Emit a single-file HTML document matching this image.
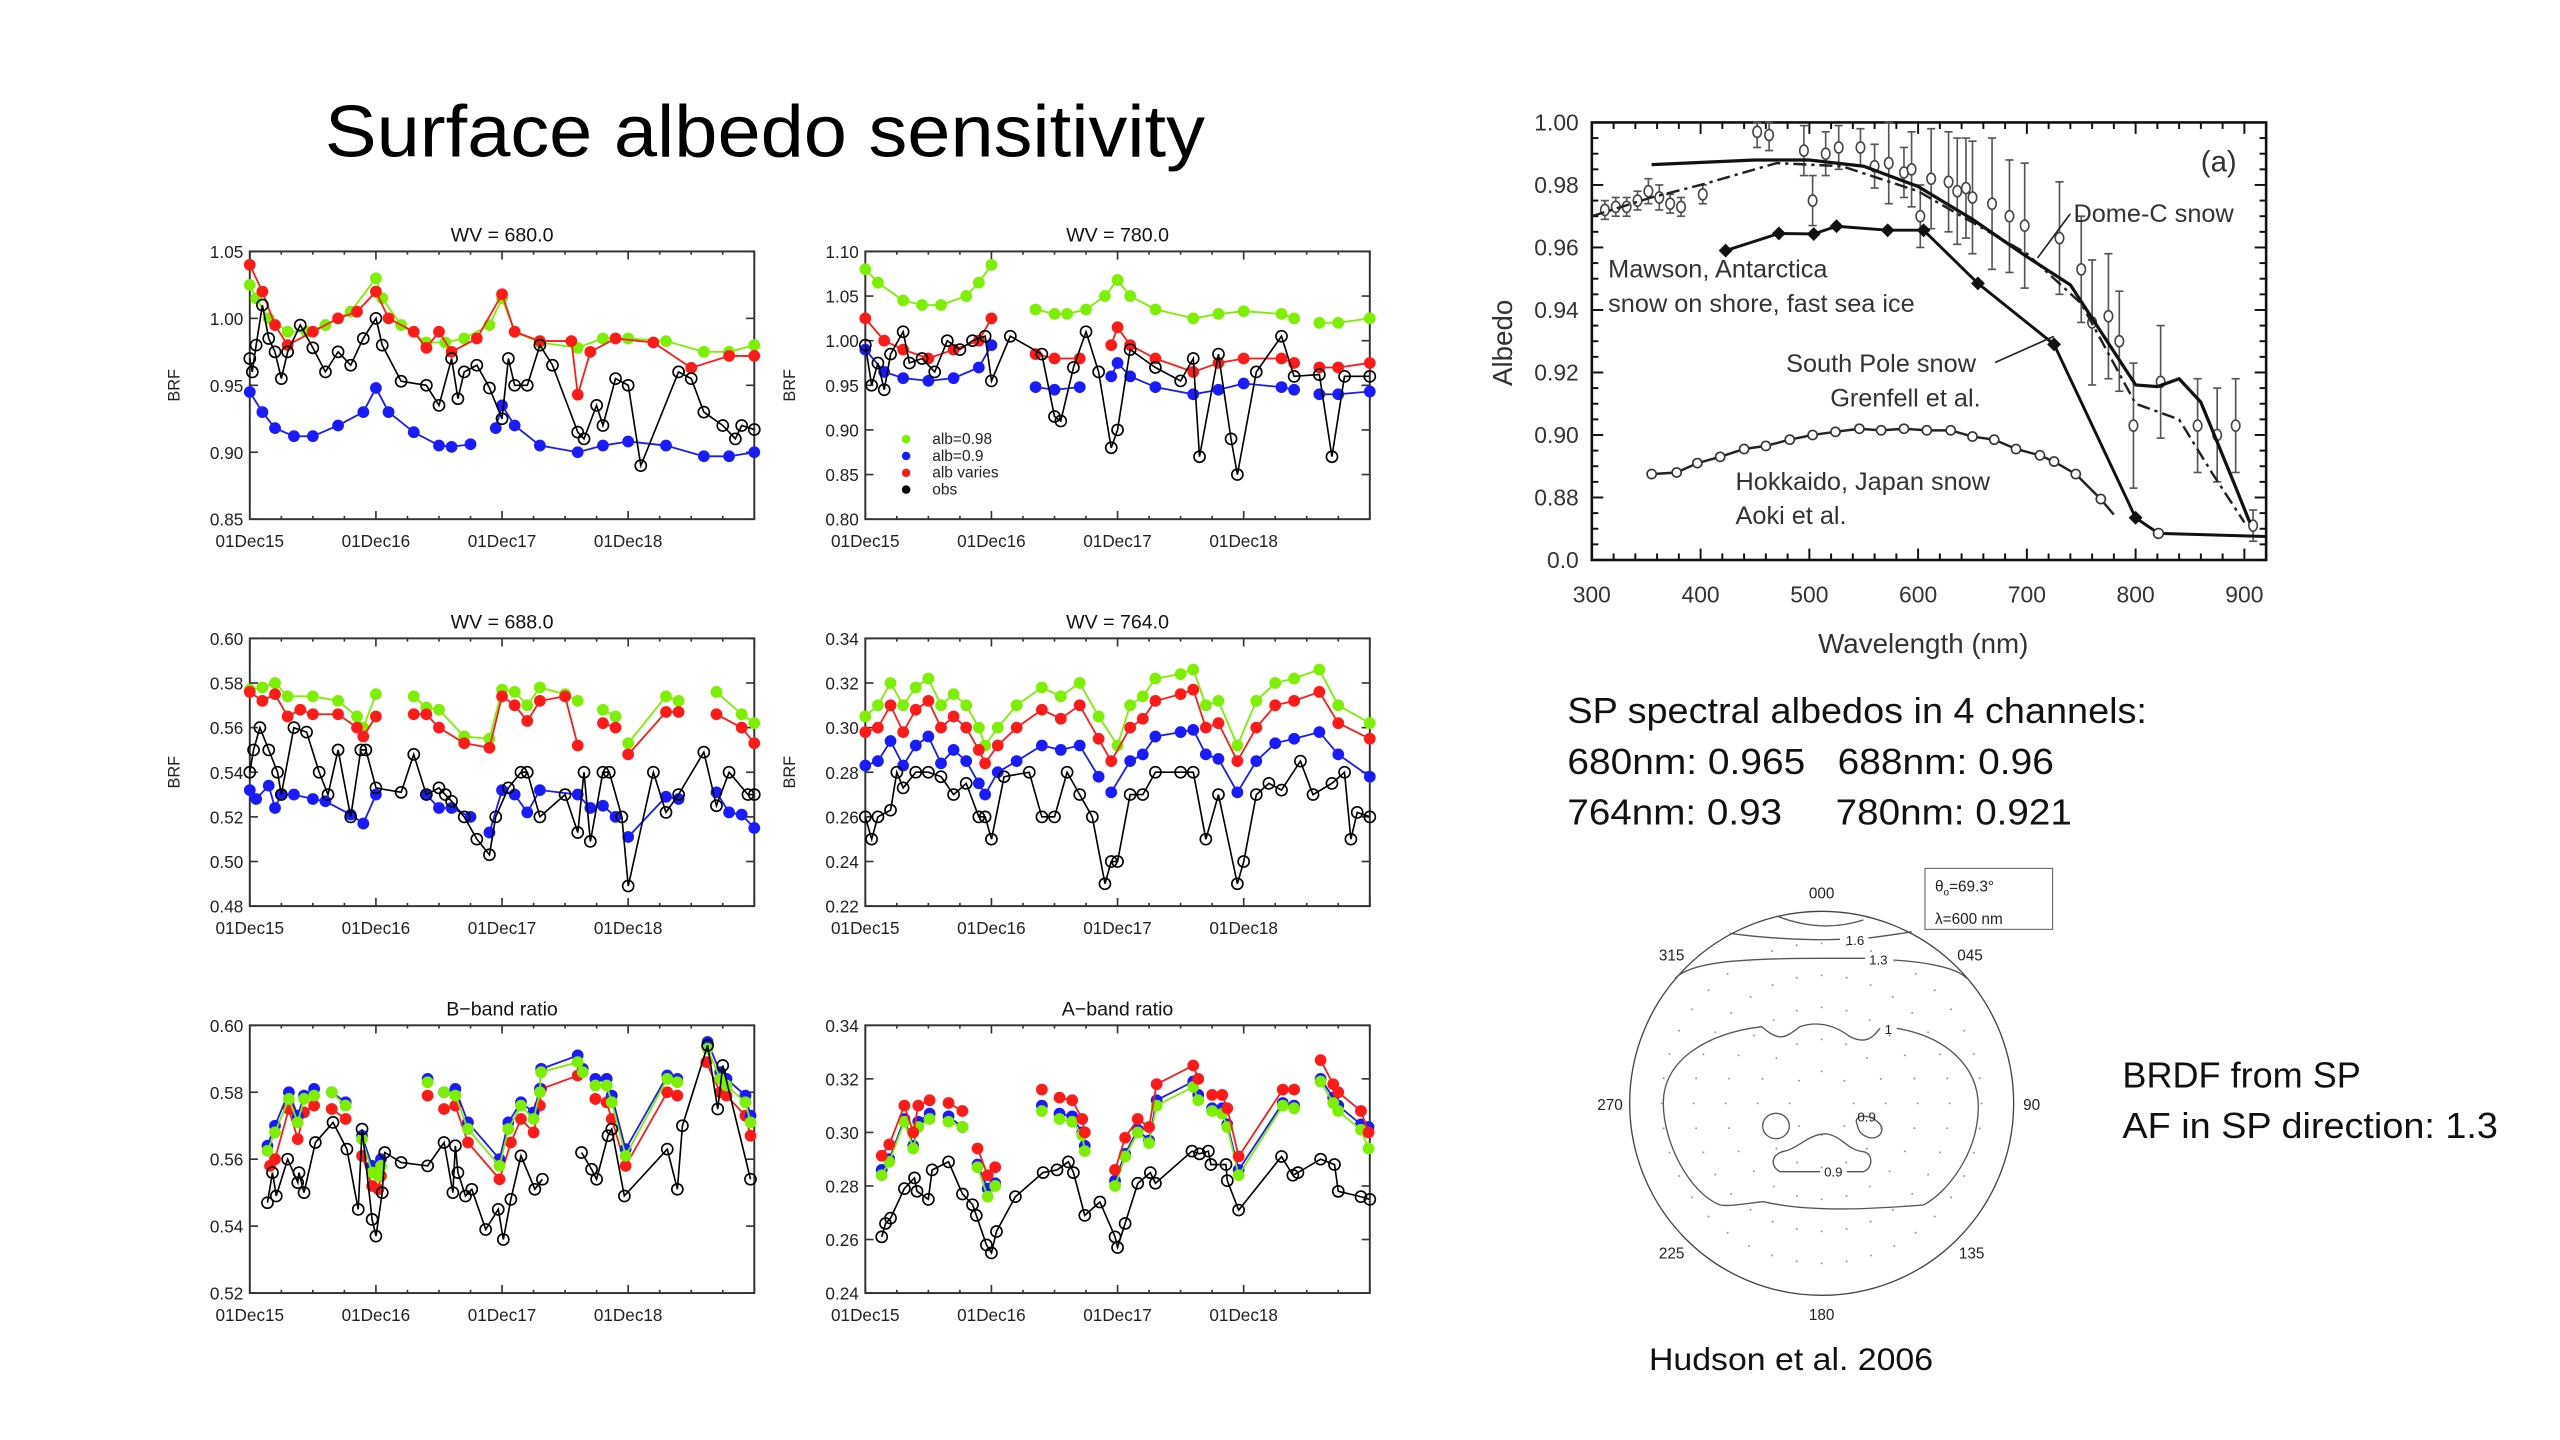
<!DOCTYPE html>
<html><head><meta charset="utf-8"><style>
html,body{margin:0;padding:0;background:#fff;}
svg{display:block;}
text{font-family:"Liberation Sans",sans-serif;}
</style></head><body>
<svg id="root" width="2560" height="1440" viewBox="0 0 1568 882" xmlns="http://www.w3.org/2000/svg">
<rect width="1568" height="882" fill="#fff"/>
<text x="199" y="96" font-size="45" textLength="539" lengthAdjust="spacingAndGlyphs">Surface albedo sensitivity</text>
<g id="panels"></g>
<g id="albedo"></g>
<g id="polar" transform="scale(0.6125) translate(1580,860) scale(0.33333)" fill="none" stroke="#555" stroke-width="4">
<circle cx="725" cy="730" r="576" stroke="#444"/>
<path d="M595,170 Q725,220 850,180"/>
<path d="M450,220 C550,235 700,242 780,238 M865,234 C910,228 960,222 995,215"/>
<path d="M285,355 C330,310 450,295 725,295 L855,295 M940,300 C1020,305 1130,320 1160,355"/>
<path d="M420,1035 C330,1000 250,850 250,730 C250,600 380,520 545,500 C600,550 620,530 660,500 C720,480 770,500 810,530 C860,555 880,530 900,505 M950,505 C1100,530 1195,620 1195,740 C1195,880 1100,1000 1030,1035 C900,1045 700,1060 550,1025 C500,1030 450,1040 420,1035"/>
<ellipse cx="588" cy="798" rx="40" ry="38"/>
<path d="M830,790 C820,760 880,760 905,800 C910,830 880,840 860,830 C835,820 835,805 830,790"/>
<path d="M720,935 L600,935 C570,920 570,880 620,872 C660,860 690,820 740,822 C790,830 800,870 850,875 C880,880 880,925 850,935 L800,935"/>
<rect x="1035" y="25" width="383" height="183" stroke-width="3"/>
<g fill="#222" stroke="none" font-size="46">
<text x="1065" y="95">θ<tspan font-size="30" dy="12">o</tspan><tspan dy="-12">=69.3°</tspan></text>
<text x="1065" y="192">λ=600 nm</text>
<g text-anchor="middle">
<text x="725" y="115">000</text><text x="825" y="255" font-size="40">1.6</text><text x="895" y="313" font-size="40">1.3</text>
<text x="275" y="302">315</text><text x="1170" y="302">045</text><text x="90" y="750">270</text><text x="1355" y="750">90</text>
<text x="860" y="785" font-size="40">0.9</text><text x="925" y="522" font-size="40">1</text><text x="760" y="950" font-size="40">0.9</text>
<text x="275" y="1195">225</text><text x="1175" y="1195">135</text><text x="725" y="1380">180</text>
</g></g>
<g id="polardots" fill="#999" stroke="none"></g>
</g>
<g font-size="22" fill="#111">
<text x="960" y="443" textLength="355" lengthAdjust="spacingAndGlyphs">SP spectral albedos in 4 channels:</text>
<text x="960" y="474" textLength="298" lengthAdjust="spacingAndGlyphs">680nm: 0.965&#160;&#160; 688nm: 0.96</text>
<text x="960" y="505" textLength="309" lengthAdjust="spacingAndGlyphs">764nm: 0.93&#160;&#160;&#160;&#160; 780nm: 0.921</text>
</g>
<g font-size="22" fill="#111">
<text x="1300" y="666" textLength="146" lengthAdjust="spacingAndGlyphs">BRDF from SP</text>
<text x="1300" y="697" textLength="230" lengthAdjust="spacingAndGlyphs">AF in SP direction: 1.3</text>
</g>
<text x="1010" y="839" font-size="19" fill="#111" textLength="174" lengthAdjust="spacingAndGlyphs">Hudson et al. 2006</text>
</svg>
<script>
// ===== Time series data: [t years since 01Dec15, value], null = gap =====
const wv680_green=[[0,1.025],[0.05,1.015],[0.15,1.0],[0.3,0.99],[0.45,0.99],[0.6,0.995],[0.8,1.005],[1.0,1.03],[1.05,1.015],[1.2,0.995],[1.4,0.982],[1.55,0.982],[1.7,0.985],[1.9,0.995],[2.0,1.015],[2.1,0.99],[2.3,0.982],[2.6,0.978],[2.8,0.985],[3.0,0.985],[3.3,0.983],[3.6,0.975],[3.8,0.975],[4.0,0.98]];
const wv680_red=[[0,1.04],[0.1,1.02],[0.2,0.995],[0.3,0.98],[0.5,0.99],[0.7,1.0],[0.85,1.005],[1.0,1.02],[1.1,1.0],[1.3,0.99],[1.4,0.978],[1.5,0.99],[1.6,0.975],[1.8,0.985],[2.0,1.018],[2.1,0.99],[2.3,0.983],[2.55,0.983],[2.6,0.943],[2.7,0.975],[2.9,0.985],[3.2,0.982],[3.5,0.963],[3.8,0.972],[4.0,0.972]];
const wv680_blue=[[0,0.945],[0.1,0.93],[0.2,0.918],[0.35,0.912],[0.5,0.912],[0.7,0.92],[0.9,0.93],[1.0,0.948],[1.1,0.93],[1.3,0.915],[1.5,0.905],[1.6,0.904],[1.75,0.906],null,[1.95,0.918],[2.0,0.935],[2.1,0.92],[2.3,0.905],[2.6,0.9],[2.8,0.905],[3.0,0.908],[3.3,0.905],[3.6,0.897],[3.8,0.897],[4.0,0.9]];
const wv680_obs=[[0,0.97],[0.02,0.96],[0.05,0.98],[0.1,1.01],[0.15,0.985],[0.2,0.975],[0.25,0.955],[0.3,0.975],[0.4,0.995],[0.5,0.978],[0.6,0.96],[0.7,0.975],[0.8,0.965],[0.9,0.985],[1.0,1.0],[1.05,0.98],[1.2,0.953],[1.4,0.95],[1.5,0.935],[1.6,0.97],[1.65,0.94],[1.7,0.96],[1.8,0.965],[1.9,0.948],[2.0,0.925],[2.05,0.97],[2.1,0.95],[2.2,0.95],[2.3,0.98],[2.4,0.965],[2.6,0.915],[2.65,0.91],[2.75,0.935],[2.8,0.92],[2.9,0.955],[3.0,0.95],[3.1,0.89],[3.4,0.96],[3.5,0.955],[3.6,0.93],[3.75,0.92],[3.85,0.91],[3.9,0.92],[4.0,0.917]];

const wv780_green=[[0,1.08],[0.1,1.065],[0.3,1.045],[0.45,1.04],[0.6,1.04],[0.8,1.05],[0.9,1.065],[1.0,1.085],null,[1.35,1.035],[1.5,1.03],[1.6,1.03],[1.75,1.035],[1.9,1.05],[2.0,1.068],[2.1,1.05],[2.3,1.035],[2.6,1.025],[2.8,1.03],[3.0,1.033],[3.3,1.03],[3.4,1.025],null,[3.6,1.02],[3.75,1.02],[4.0,1.025]];
const wv780_red=[[0,1.025],[0.15,1.0],[0.3,0.99],[0.5,0.98],[0.7,0.99],[0.9,1.0],[1.0,1.025],null,[1.35,0.985],[1.5,0.98],[1.7,0.98],null,[1.95,0.995],[2.0,1.015],[2.1,0.995],[2.3,0.98],[2.6,0.965],[2.8,0.975],[3.0,0.98],[3.3,0.98],[3.4,0.975],null,[3.6,0.97],[3.75,0.97],[4.0,0.975]];
const wv780_blue=[[0,0.99],[0.15,0.965],[0.3,0.958],[0.5,0.955],[0.7,0.958],[0.9,0.97],[1.0,0.995],null,[1.35,0.948],[1.5,0.945],[1.7,0.948],null,[1.95,0.96],[2.0,0.975],[2.1,0.96],[2.3,0.948],[2.6,0.94],[2.8,0.945],[3.0,0.952],[3.3,0.948],[3.4,0.945],null,[3.6,0.94],[3.75,0.94],[4.0,0.943]];
const wv780_obs=[[0,0.995],[0.05,0.95],[0.1,0.975],[0.15,0.945],[0.2,0.985],[0.3,1.01],[0.35,0.975],[0.45,0.98],[0.55,0.965],[0.65,1.0],[0.75,0.99],[0.85,1.0],[0.95,1.005],[1.0,0.955],[1.15,1.005],[1.4,0.985],[1.5,0.915],[1.55,0.91],[1.65,0.97],[1.75,1.01],[1.85,0.965],[1.95,0.88],[2.0,0.9],[2.1,0.99],[2.3,0.97],[2.5,0.955],[2.6,0.98],[2.65,0.87],[2.8,0.985],[2.9,0.89],[2.95,0.85],[3.1,0.965],[3.3,1.005],[3.4,0.96],[3.6,0.962],[3.7,0.87],[3.8,0.96],[4.0,0.96]];

const wv688_green=[[0,0.577],[0.1,0.578],[0.2,0.58],[0.3,0.574],[0.5,0.574],[0.7,0.572],[0.85,0.565],[0.9,0.56],[1.0,0.575],null,[1.3,0.574],[1.4,0.569],[1.5,0.568],[1.7,0.556],[1.9,0.555],[2.0,0.577],[2.1,0.576],[2.2,0.57],[2.3,0.578],[2.5,0.575],[2.6,0.572],null,[2.8,0.568],[2.9,0.565],null,[3.0,0.553],[3.3,0.574],[3.4,0.572],null,[3.7,0.576],[3.9,0.566],[4.0,0.562]];
const wv688_red=[[0,0.576],[0.1,0.572],[0.2,0.575],[0.3,0.565],[0.4,0.568],[0.5,0.566],[0.7,0.566],[0.85,0.56],[0.9,0.556],[1.0,0.565],null,[1.3,0.566],[1.4,0.566],[1.5,0.56],[1.7,0.553],[1.9,0.551],[2.0,0.574],[2.1,0.57],[2.2,0.563],[2.3,0.572],[2.5,0.574],[2.6,0.552],null,[2.8,0.562],[2.9,0.56],null,[3.0,0.548],[3.3,0.567],[3.4,0.567],null,[3.7,0.566],[3.9,0.56],[4.0,0.553]];
const wv688_blue=[[0,0.532],[0.05,0.528],[0.15,0.534],[0.2,0.524],[0.25,0.53],[0.35,0.53],[0.5,0.528],[0.6,0.527],[0.8,0.521],[0.9,0.517],[1.0,0.53],null,[1.4,0.53],[1.5,0.524],[1.6,0.524],[1.75,0.52],null,[1.9,0.513],[2.0,0.532],[2.1,0.53],[2.2,0.522],[2.3,0.532],[2.6,0.53],[2.7,0.524],[2.8,0.525],[2.9,0.52],null,[3.0,0.511],[3.3,0.529],[3.4,0.528],null,[3.7,0.531],[3.8,0.522],[3.9,0.521],[4.0,0.515]];
const wv688_obs=[[0,0.54],[0.03,0.55],[0.08,0.56],[0.15,0.55],[0.22,0.54],[0.25,0.53],[0.35,0.56],[0.45,0.558],[0.55,0.54],[0.62,0.53],[0.7,0.55],[0.8,0.52],[0.88,0.55],[0.92,0.55],[1.0,0.533],[1.2,0.531],[1.3,0.548],[1.4,0.53],[1.5,0.533],[1.55,0.53],[1.6,0.527],[1.7,0.52],[1.8,0.51],[1.9,0.503],[1.95,0.52],[2.05,0.533],[2.15,0.54],[2.2,0.54],[2.3,0.52],[2.5,0.53],[2.6,0.513],[2.65,0.54],[2.7,0.509],[2.8,0.54],[2.85,0.54],[2.95,0.52],[3.0,0.489],[3.2,0.54],[3.3,0.522],[3.4,0.53],[3.6,0.549],[3.7,0.525],[3.8,0.54],[3.95,0.53],[4.0,0.53]];

const wv764_green=[[0,0.305],[0.1,0.31],[0.2,0.32],[0.3,0.31],[0.4,0.318],[0.5,0.322],[0.6,0.31],[0.7,0.315],[0.8,0.31],[0.9,0.3],[0.95,0.292],[1.05,0.3],[1.2,0.31],[1.4,0.318],[1.55,0.314],[1.7,0.32],[1.85,0.305],[2.0,0.292],[2.1,0.31],[2.2,0.314],[2.3,0.322],[2.5,0.324],[2.6,0.326],[2.7,0.31],[2.8,0.312],[2.95,0.292],[3.1,0.312],[3.25,0.32],[3.4,0.322],[3.6,0.326],[3.75,0.31],[4.0,0.302]];
const wv764_red=[[0,0.298],[0.1,0.3],[0.2,0.31],[0.3,0.298],[0.4,0.308],[0.5,0.312],[0.6,0.3],[0.7,0.305],[0.8,0.3],[0.9,0.29],[0.95,0.284],[1.05,0.292],[1.2,0.3],[1.4,0.308],[1.55,0.304],[1.7,0.31],[1.85,0.295],[1.95,0.285],[2.1,0.3],[2.2,0.304],[2.3,0.312],[2.5,0.315],[2.6,0.317],[2.7,0.3],[2.8,0.302],[2.95,0.285],[3.1,0.3],[3.25,0.31],[3.4,0.312],[3.6,0.316],[3.75,0.302],[4.0,0.295]];
const wv764_blue=[[0,0.283],[0.1,0.285],[0.2,0.294],[0.3,0.283],[0.4,0.292],[0.5,0.296],[0.6,0.284],[0.7,0.29],[0.8,0.285],[0.9,0.275],[0.95,0.27],[1.05,0.28],[1.2,0.285],[1.4,0.292],[1.55,0.29],[1.7,0.292],[1.85,0.278],null,[1.95,0.271],[2.1,0.285],[2.2,0.288],[2.3,0.296],[2.5,0.298],[2.6,0.299],[2.7,0.288],[2.8,0.286],[2.95,0.271],[3.1,0.285],[3.25,0.293],[3.4,0.295],[3.6,0.298],[3.75,0.288],[4.0,0.278]];
const wv764_obs=[[0,0.26],[0.05,0.25],[0.1,0.26],[0.2,0.263],[0.25,0.28],[0.3,0.273],[0.4,0.28],[0.5,0.28],[0.6,0.278],[0.7,0.27],[0.8,0.275],[0.9,0.26],[0.95,0.26],[1.0,0.25],[1.1,0.278],[1.3,0.28],[1.4,0.26],[1.5,0.26],[1.6,0.28],[1.7,0.27],[1.8,0.26],[1.9,0.23],[1.95,0.24],[2.0,0.24],[2.1,0.27],[2.2,0.27],[2.3,0.28],[2.5,0.28],[2.6,0.28],[2.7,0.25],[2.8,0.27],[2.95,0.23],[3.0,0.24],[3.1,0.27],[3.2,0.275],[3.3,0.272],[3.45,0.285],[3.55,0.27],[3.7,0.275],[3.8,0.28],[3.85,0.25],[3.9,0.262],[4.0,0.26]];

const bband_green=[[0.14,0.5625],[0.2,0.568],[0.31,0.578],[0.38,0.571],[0.43,0.578],[0.51,0.579],null,[0.65,0.58],[0.76,0.576],null,[0.89,0.566],[0.97,0.556],[1.02,0.555],[1.04,0.558],null,[1.41,0.583],null,[1.54,0.58],[1.63,0.579],[1.73,0.569],[1.98,0.558],[2.05,0.569],[2.15,0.576],[2.25,0.572],[2.3,0.58],[2.31,0.586],[2.6,0.589],[2.64,0.586],null,[2.74,0.582],[2.83,0.582],[2.87,0.577],[2.98,0.561],[3.31,0.584],[3.39,0.583],null,[3.63,0.593],[3.73,0.584],[3.78,0.582],[3.93,0.577],[3.97,0.571]];
const bband_blue=[[0.14,0.564],[0.2,0.57],[0.31,0.58],[0.38,0.573],[0.43,0.579],[0.51,0.581],null,[0.65,0.58],[0.76,0.577],null,[0.89,0.567],[0.97,0.558],[1.02,0.556],[1.04,0.56],null,[1.41,0.584],null,[1.54,0.58],[1.63,0.581],[1.73,0.571],[1.98,0.56],[2.05,0.571],[2.15,0.577],[2.25,0.574],[2.3,0.581],[2.31,0.587],[2.6,0.591],[2.64,0.587],null,[2.74,0.584],[2.83,0.584],[2.87,0.579],[2.98,0.563],[3.31,0.585],[3.39,0.584],null,[3.63,0.595],[3.73,0.586],[3.78,0.584],[3.93,0.579],[3.97,0.573]];
const bband_red=[[0.16,0.558],[0.2,0.56],[0.31,0.575],[0.38,0.566],[0.43,0.574],[0.51,0.576],null,[0.65,0.575],[0.76,0.572],null,[0.89,0.561],[0.97,0.552],[1.02,0.551],[1.04,0.555],null,[1.41,0.579],null,[1.54,0.575],[1.63,0.576],[1.73,0.565],[1.98,0.554],[2.07,0.565],[2.15,0.572],[2.25,0.568],[2.3,0.576],[2.31,0.581],[2.6,0.585],null,[2.74,0.578],[2.83,0.577],[2.87,0.572],[2.98,0.558],[3.31,0.58],[3.39,0.579],null,[3.62,0.589],[3.73,0.58],[3.78,0.579],[3.93,0.573],[3.97,0.567]];
const bband_obs=[[0.14,0.547],[0.18,0.556],[0.21,0.549],[0.3,0.56],[0.38,0.553],[0.39,0.556],[0.43,0.55],[0.52,0.565],[0.66,0.571],[0.77,0.563],[0.86,0.545],[0.89,0.569],[0.97,0.542],[1.0,0.537],[1.05,0.55],[1.07,0.562],[1.2,0.559],[1.41,0.558],[1.54,0.565],[1.61,0.55],[1.63,0.564],[1.65,0.556],[1.71,0.549],[1.76,0.551],[1.87,0.539],[1.97,0.545],[2.01,0.536],[2.07,0.548],[2.15,0.561],[2.26,0.551],[2.32,0.554],null,[2.63,0.562],[2.71,0.557],[2.75,0.554],[2.84,0.567],[2.87,0.569],[2.97,0.549],[3.31,0.563],[3.39,0.551],[3.43,0.57],[3.63,0.594],[3.71,0.575],[3.75,0.588],[3.97,0.554]];

const aband_red=[[0.13,0.2913],[0.19,0.2955],[0.31,0.31],[0.38,0.3],[0.42,0.31],[0.51,0.312],null,[0.66,0.311],[0.77,0.308],null,[0.89,0.294],[0.97,0.284],[1.03,0.287],null,[1.4,0.316],null,[1.54,0.313],[1.64,0.312],[1.72,0.305],[1.74,0.3],null,[1.98,0.286],[2.06,0.298],[2.16,0.305],[2.25,0.302],[2.31,0.318],[2.6,0.325],[2.64,0.32],null,[2.75,0.314],[2.83,0.314],[2.87,0.309],[2.96,0.291],[3.31,0.316],[3.4,0.316],null,[3.61,0.327],[3.71,0.318],[3.75,0.315],[3.93,0.308],[3.99,0.3]];
const aband_blue=[[0.13,0.286],[0.19,0.29],[0.31,0.305],[0.38,0.295],[0.42,0.304],[0.51,0.307],null,[0.66,0.306],[0.77,0.302],null,[0.89,0.288],[0.97,0.279],[1.03,0.281],null,[1.4,0.31],null,[1.54,0.307],[1.64,0.306],[1.72,0.3],[1.74,0.295],null,[1.98,0.282],[2.06,0.292],[2.16,0.301],[2.25,0.297],[2.31,0.312],[2.6,0.319],[2.64,0.314],null,[2.75,0.309],[2.83,0.309],[2.87,0.303],[2.96,0.286],[3.31,0.311],[3.4,0.31],null,[3.61,0.32],[3.71,0.313],[3.75,0.31],[3.93,0.303],[3.99,0.302]];
const aband_green=[[0.13,0.284],[0.19,0.289],[0.31,0.304],[0.38,0.294],[0.42,0.302],[0.51,0.305],null,[0.66,0.304],[0.77,0.302],null,[0.89,0.287],[0.97,0.276],[1.03,0.28],null,[1.4,0.308],null,[1.54,0.305],[1.64,0.304],[1.72,0.299],[1.74,0.293],null,[1.98,0.28],[2.06,0.291],[2.16,0.3],[2.25,0.296],[2.31,0.31],[2.6,0.317],[2.64,0.312],null,[2.75,0.308],[2.83,0.307],[2.87,0.302],[2.96,0.284],[3.31,0.31],[3.4,0.309],null,[3.61,0.319],[3.71,0.311],[3.75,0.308],[3.93,0.301],[3.99,0.294]];
const aband_obs=[[0.13,0.261],[0.16,0.266],[0.2,0.268],[0.31,0.279],[0.39,0.283],[0.41,0.278],[0.5,0.275],[0.53,0.286],[0.66,0.289],[0.77,0.277],[0.85,0.273],[0.88,0.269],[0.96,0.258],[1.0,0.255],[1.04,0.263],[1.19,0.276],[1.41,0.285],[1.52,0.286],[1.61,0.289],[1.65,0.285],[1.74,0.269],[1.86,0.274],[1.98,0.261],[2.0,0.257],[2.06,0.266],[2.16,0.281],[2.26,0.285],[2.3,0.281],[2.59,0.293],[2.65,0.292],[2.72,0.293],[2.74,0.288],[2.86,0.288],[2.87,0.282],[2.96,0.271],[3.3,0.291],[3.39,0.284],[3.43,0.285],[3.61,0.29],[3.72,0.288],[3.75,0.278],[3.93,0.276],[4.0,0.275]];

const xTickLabels=["01Dec15","01Dec16","01Dec17","01Dec18"];
const xTickValues=[0,1,2,3];
const panelTitles=["WV = 680.0","WV = 780.0","WV = 688.0","WV = 764.0","B\u2212band ratio","A\u2212band ratio"];
const panelYTicks=[[0.85,0.90,0.95,1.00,1.05],[0.80,0.85,0.90,0.95,1.00,1.05,1.10],[0.48,0.50,0.52,0.54,0.56,0.58,0.60],[0.22,0.24,0.26,0.28,0.30,0.32,0.34],[0.52,0.54,0.56,0.58,0.60],[0.24,0.26,0.28,0.30,0.32,0.34]];
const legendLabels=["alb=0.98","alb=0.9","alb varies","obs"];

// ===== Albedo spectral chart data =====
const wlTicks=[300,400,500,600,700,800,900];
const albTicks=[0.88,0.90,0.92,0.94,0.96,0.98,1.00];
const albTickLabels=["0.0","0.88","0.90","0.92","0.94","0.96","0.98","1.00"];
const hokkaido_w=[355,378,397,418,440,460,482,503,524,546,566,587,608,630,650,670,690,712,725,745,768];
const hokkaido_a=[0.8875,0.888,0.891,0.893,0.8955,0.8965,0.8985,0.9,0.901,0.902,0.9015,0.902,0.9015,0.9015,0.8995,0.8985,0.8955,0.8935,0.8915,0.8875,0.8795];
const mawson_w=[423,472,504,525,572,605,655,725,800];
const mawson_a=[0.959,0.9645,0.9643,0.9668,0.9655,0.9655,0.9485,0.929,0.8735];
const domec_w=[355,450,500,550,600,650,700,740,770,800,820,840,860,890,905];
const domec_a=[0.9865,0.988,0.988,0.986,0.9795,0.969,0.957,0.948,0.932,0.916,0.9155,0.918,0.9105,0.885,0.872];
const sp_w=[300,355,400,470,530,600,700,750,800,840,870,900];
const sp_a=[0.97,0.976,0.98,0.987,0.986,0.978,0.958,0.942,0.91,0.905,0.888,0.872];
const obs_w=[312,322,332,342,352,362,372,382,402,452,463,495,503,515,527,547,560,573,587,594,602,612,628,636,644,650,668,684,698,730,750,760,775,785,798,823,857,875,892,908];
const obs_a=[0.972,0.973,0.973,0.975,0.978,0.976,0.974,0.973,0.977,0.997,0.996,0.991,0.975,0.99,0.992,0.992,0.986,0.987,0.984,0.985,0.970,0.982,0.981,0.978,0.979,0.976,0.974,0.97,0.967,0.963,0.953,0.936,0.938,0.93,0.903,0.917,0.903,0.9,0.903,0.871];
const obs_err=[0.003,0.003,0.003,0.003,0.004,0.004,0.003,0.003,0.003,0.005,0.005,0.008,0.008,0.007,0.007,0.006,0.007,0.013,0.008,0.012,0.010,0.016,0.016,0.017,0.016,0.018,0.021,0.018,0.020,0.018,0.017,0.020,0.020,0.016,0.020,0.018,0.015,0.015,0.015,0.005];

const NS="http://www.w3.org/2000/svg";
function mk(tag,attrs,parent){const e=document.createElementNS(NS,tag);for(const k in attrs)e.setAttribute(k,attrs[k]);if(parent)parent.appendChild(e);return e;}
const GREEN="#7cf000",BLUE="#1a1aff",RED="#ff1a1a";

const panelDefs=[
 {x:153,y:154,ymin:0.85,ymax:1.05,series:[wv680_green,wv680_red,wv680_blue,wv680_obs],brf:true},
 {x:530,y:154,ymin:0.80,ymax:1.10,series:[wv780_green,wv780_red,wv780_blue,wv780_obs],brf:true,legend:true},
 {x:153,y:391,ymin:0.48,ymax:0.60,series:[wv688_green,wv688_red,wv688_blue,wv688_obs],brf:true},
 {x:530,y:391,ymin:0.22,ymax:0.34,series:[wv764_green,wv764_red,wv764_blue,wv764_obs],brf:true},
 {x:153,y:628,ymin:0.52,ymax:0.60,series:[bband_red,bband_blue,bband_green,bband_obs],cols:[RED,BLUE,GREEN],brf:false},
 {x:530,y:628,ymin:0.24,ymax:0.34,series:[aband_blue,aband_green,aband_red,aband_obs],cols:[BLUE,GREEN,RED],brf:false}
];
const PW=309,PH=164;
const gp=document.getElementById('panels');
panelDefs.forEach((p,i)=>{
  const g=mk('g',{},gp);
  
  
  const sx=t=>p.x+t/4*PW, sy=v=>p.y+PH-(v-p.ymin)/(p.ymax-p.ymin)*PH;
  const title=mk('text',{x:p.x+PW/2,y:p.y-6,'font-size':12,'text-anchor':'middle',fill:'#111'},g);
  title.textContent=panelTitles[i];
  
  
  const box=mk('rect',{x:p.x,y:p.y,width:PW,height:PH,fill:'none',stroke:'#333','stroke-width':1.2},g);
  
  
  panelYTicks[i].forEach(v=>{
    const y=sy(v);
    mk('line',{x1:p.x,x2:p.x+5,y1:y,y2:y,stroke:'#333'},g);
    mk('line',{x1:p.x+PW-5,x2:p.x+PW,y1:y,y2:y,stroke:'#333'},g);
    const t=mk('text',{x:p.x-4,y:y+4,'font-size':10.5,'text-anchor':'end',fill:'#222'},g);
    t.textContent=v.toFixed(2);
    
    
  });
  for(let k=0;k<=16;k++){const x=p.x+k/16*PW;mk('line',{x1:x,x2:x,y1:p.y+PH,y2:p.y+PH-(k%4?2:5),stroke:'#333'},g);mk('line',{x1:x,x2:x,y1:p.y,y2:p.y+(k%4?2:5),stroke:'#333'},g);}
  xTickValues.forEach((tv,k)=>{
    const t=mk('text',{x:sx(tv),y:p.y+PH+17,'font-size':10.5,'text-anchor':'middle',fill:'#222'},g);
    t.textContent=xTickLabels[k];
    
    
  });
  if(p.brf){const t=mk('text',{x:0,y:0,'font-size':10,'text-anchor':'middle',fill:'#222',transform:`translate(${p.x-43},${p.y+PH/2}) rotate(-90)`},g);t.textContent='BRF';
    
    }
  const cols=p.cols?p.cols.concat(['#000']):[GREEN,RED,BLUE,'#000'];
  const names=['series-a','series-b','series-c','series-obs'];
  p.series.forEach((s,si)=>{
    const sg=mk('g',{},g);
    
    
    const obs=si===3;
    let d='',pen=false;
    s.forEach(pt=>{if(!pt){pen=false;return;} d+=(pen?'L':'M')+sx(pt[0]).toFixed(1)+','+sy(pt[1]).toFixed(1);pen=true;});
    mk('path',{d:d,fill:'none',stroke:cols[si],'stroke-width':obs?1:1.1},sg);
    s.forEach(pt=>{if(!pt)return;
      const c=mk('circle',{cx:sx(pt[0]),cy:sy(pt[1]),r:obs?3.4:3.6,fill:obs?'none':cols[si],stroke:obs?'#000':'none','stroke-width':1},sg);
      
      
    });
  });
  if(p.legend){
    const lg=mk('g',{},g);
    
    
    const lc=[GREEN,BLUE,RED,'#000'];
    legendLabels.forEach((l,k)=>{
      mk('circle',{cx:555,cy:269+k*10.3,r:2.6,fill:lc[k]},lg);
      const t=mk('text',{x:571,y:272+k*10.3,'font-size':9.5,fill:'#222'},lg);
      t.textContent=l;
      
      
    });
  }
});

// ===== Albedo chart =====
(function(){
  const g=document.getElementById('albedo');
  
  
  const X0=975,X1=1388,Y0=75,Y1=343,WMIN=300,WMAX=920,AMIN=0.86,AMAX=1.0;
  const sx=w=>X0+(w-WMIN)/(WMAX-WMIN)*(X1-X0), sy=a=>Y1-(a-AMIN)/(AMAX-AMIN)*(Y1-Y0);
  mk('rect',{x:X0,y:Y0,width:X1-X0,height:Y1-Y0,fill:'none',stroke:'#111','stroke-width':1.6},g);
  for(let w=300;w<=920;w+=20){const x=sx(w),L=(w%100)?4:7;mk('line',{x1:x,x2:x,y1:Y1,y2:Y1-L,stroke:'#111','stroke-width':1.2},g);mk('line',{x1:x,x2:x,y1:Y0,y2:Y0+L,stroke:'#111','stroke-width':1.2},g);}
  for(let k=0;k<=28;k++){const y=Y1-k/28*(Y1-Y0),L=(k%4)?4:7;mk('line',{x1:X0,x2:X0+L,y1:y,y2:y,stroke:'#111','stroke-width':1.2},g);mk('line',{x1:X1,x2:X1-L,y1:y,y2:y,stroke:'#111','stroke-width':1.2},g);}
  wlTicks.forEach(w=>{const t=mk('text',{x:sx(w),y:Y1+26,'font-size':14,'text-anchor':'middle',fill:'#333'},g);t.textContent=w;
    
    });
  const yl=[AMIN].concat(albTicks);
  yl.forEach((a,k)=>{const t=mk('text',{x:X0-8,y:sy(a)+5,'font-size':14,'text-anchor':'end',fill:'#333'},g);t.textContent=albTickLabels[k];
    
    });
  const xt=mk('text',{x:1178,y:400,'font-size':17,'text-anchor':'middle',fill:'#333'},g);xt.textContent='Wavelength (nm)';
  
  
  const yt=mk('text',{x:0,y:0,'font-size':17,'text-anchor':'middle',fill:'#333',transform:'translate(926,210) rotate(-90)'},g);yt.textContent='Albedo';
  
  
  const line=(W,A,attrs,name)=>{const d=W.map((w,i)=>(i?'L':'M')+sx(w).toFixed(1)+','+sy(A[i]).toFixed(1)).join('');const e=mk('path',Object.assign({d:d,fill:'none'},attrs),g);
    
    return e;};
  obs_w.forEach((w,i)=>{const x=sx(w),y1=sy(obs_a[i]-obs_err[i]),y2=sy(Math.min(obs_a[i]+obs_err[i],1.0));
    mk('line',{x1:x,x2:x,y1:y1,y2:y2,stroke:'#555','stroke-width':1},g);
    mk('line',{x1:x-2.5,x2:x+2.5,y1:y1,y2:y1,stroke:'#555'},g);mk('line',{x1:x-2.5,x2:x+2.5,y1:y2,y2:y2,stroke:'#555'},g);
    const c=mk('ellipse',{cx:x,cy:sy(obs_a[i]),rx:2.6,ry:3.4,fill:'#fff',stroke:'#444','stroke-width':1},g);
    
    });
  line(sp_w,sp_a,{stroke:'#222','stroke-width':1.5,'stroke-dasharray':'8,3,2,3'},'south-pole-model-line');
  line(domec_w,domec_a,{stroke:'#111','stroke-width':2},'dome-c-line');
  line(mawson_w.concat([821,920]),mawson_a.concat([0.8685,0.8675]),{stroke:'#111','stroke-width':1.8},'mawson-line');
  mawson_w.forEach((w,i)=>{const c=mk('rect',{x:sx(w)-3,y:sy(mawson_a[i])-3,width:6,height:6,fill:'#111',transform:`rotate(45 ${sx(w)} ${sy(mawson_a[i])})`},g);
    
    });
  mk('circle',{cx:sx(821),cy:sy(0.8685),r:3,fill:'#fff',stroke:'#333'},g);
  line(hokkaido_w.concat([780]),hokkaido_a.concat([0.8745]),{stroke:'#222','stroke-width':1.5},'hokkaido-line');
  hokkaido_w.forEach((w,i)=>{const c=mk('circle',{cx:sx(w),cy:sy(hokkaido_a[i]),r:2.8,fill:'#fff',stroke:'#333','stroke-width':1},g);
    
    });
  const labs=[["(a)",1348,105,18],["Dome-C snow",1270,136,15.5],["Mawson, Antarctica",985,170,15.5],["snow on shore, fast sea ice",985,191,15.5],["South Pole snow",1094,228,15.5],["Grenfell et al.",1121,249,15.5],["Hokkaido, Japan snow",1063,300,15.5],["Aoki et al.",1063,321,15.5]];
  labs.forEach(l=>{const t=mk('text',{x:l[1],y:l[2],'font-size':l[3],fill:'#333'},g);t.textContent=l[0];
    
    });
  mk('line',{x1:1268,y1:131,x2:1248,y2:158,stroke:'#222'},g);
  mk('line',{x1:1222,y1:222,x2:1258,y2:206,stroke:'#222'},g);
})();

(function(){const g=document.getElementById('polardots');
  [96,192,288,384,480].forEach((r,ri)=>{const n=8*(ri+1);for(let k=0;k<n;k++){const a=k/n*2*Math.PI;mk('circle',{cx:725+r*Math.sin(a),cy:730-r*Math.cos(a),r:3},g);}});
})();
</script>
</body></html>
